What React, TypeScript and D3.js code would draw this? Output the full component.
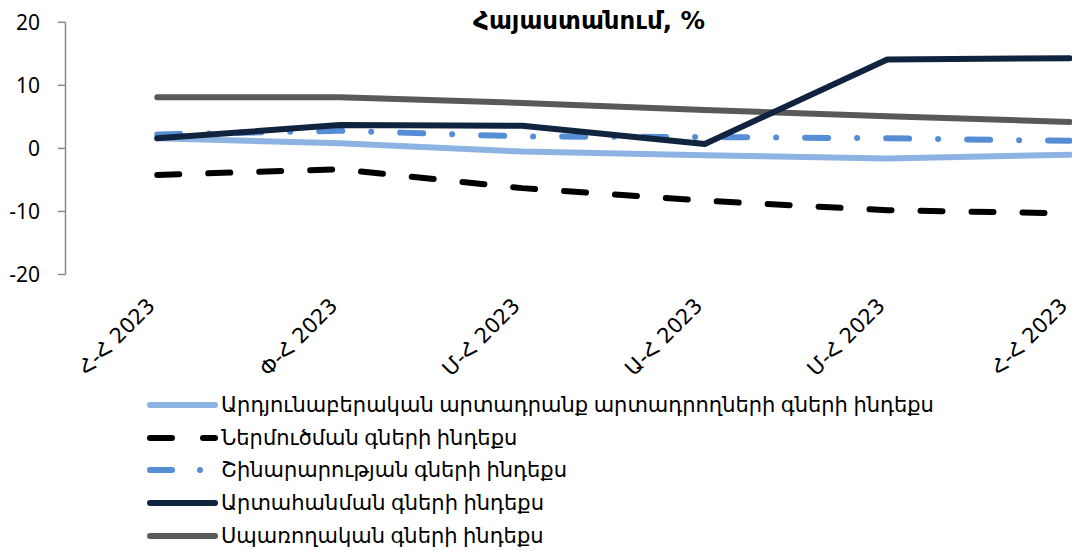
import React from "react";
import * as d3 from "d3";

const categories = ["Հ-Հ 2023", "Փ-Հ 2023", "Մ-Հ 2023", "Ա-Հ 2023", "Մ-Հ 2023", "Հ-Հ 2023"];
const producerPrices = [1.6, 0.8, -0.5, -1.1, -1.6, -1.0];
const importPrices = [-4.2, -3.3, -6.3, -8.3, -9.8, -10.3];
const constructionPrices = [2.2, 2.8, 1.9, 1.8, 1.6, 1.2];
const exportPrices = [1.6, 3.7, 3.6, 0.7, 14.1, 14.3];
const consumerPrices = [8.1, 8.1, 7.2, 6.1, 5.1, 4.2];
const yTicks = [-20, -10, 0, 10, 20];
const title = "Հայաստանում, %";

const seriesNames = [
  "Արդյունաբերական արտադրանք արտադրողների գների ինդեքս",
  "Ներմուծման գների ինդեքս",
  "Շինարարության գների ինդեքս",
  "Արտահանման գների ինդեքս",
  "Սպառողական գների ինդեքս",
];

const FONT = "'Noto Sans', 'DejaVu Sans', sans-serif";
const WIDE = "'DejaVu Sans', 'Noto Sans', sans-serif";

export default function App() {
  const W = 1072;
  const H = 551;
  const x = d3.scaleBand<string>().domain(categories.map((_, i) => String(i))).range([66, 1161]);
  const cx = (i: number) => (x(String(i)) as number) + x.bandwidth() / 2;
  const y = d3.scaleLinear().domain([-20, 20]).range([274.5, 22.3]);

  const line = d3
    .line<number>()
    .x((_, i) => cx(i))
    .y((d) => y(d));

  const series = [
    { name: seriesNames[0], data: producerPrices, color: "#8db3e2", width: 6, dash: "" },
    { name: seriesNames[1], data: importPrices, color: "#000000", width: 6, dash: "22 29" },
    { name: seriesNames[2], data: constructionPrices, color: "#558ed5", width: 6, dash: "23 29 0 29" },
    { name: seriesNames[3], data: exportPrices, color: "#10243f", width: 6, dash: "" },
    { name: seriesNames[4], data: consumerPrices, color: "#595959", width: 6, dash: "" },
  ];
  const drawOrder = [4, 0, 2, 1, 3];

  const legendY = [405, 438, 470, 503, 536];

  return (
    <svg width={W} height={H} style={{ position: "absolute", left: 0, top: 0 }}>
      <rect width={W} height={H} fill="#ffffff" />
      <text
        x={589}
        y={29}
        textAnchor="middle"
        fontFamily={WIDE}
        fontSize={24}
        fontWeight="bold"
        fill="#000"
        textLength={232}
        lengthAdjust="spacingAndGlyphs"
      >
        {title}
      </text>
      {/* y axis */}
      <line x1={65.5} x2={65.5} y1={y(20)} y2={y(-20)} stroke="#898989" strokeWidth={1.5} />
      {yTicks.map((t) => (
        <g key={t}>
          <line x1={58} x2={65.5} y1={y(t)} y2={y(t)} stroke="#898989" strokeWidth={1.5} />
          <text x={40} y={y(t)} dy="0.35em" textAnchor="end" fontFamily={FONT} fontSize={21} fill="#000">
            {t}
          </text>
        </g>
      ))}
      {/* series */}
      {drawOrder.map((k) => {
        const s = series[k];
        return (
          <path
            key={k}
            d={line(s.data) || ""}
            fill="none"
            stroke={s.color}
            strokeWidth={s.width}
            strokeLinecap="round"
            strokeLinejoin="round"
            strokeDasharray={s.dash || undefined}
          />
        );
      })}
      {/* x labels */}
      {categories.map((c, i) => (
        <text
          key={i}
          transform={`translate(${cx(i) - 1},${307}) rotate(-45)`}
          textAnchor="end"
          fontFamily={WIDE}
          fontSize={21}
          fill="#000"
        >
          {c}
        </text>
      ))}
      {/* legend */}
      {series.map((s, i) => (
        <g key={i}>
          {s.dash === "" ? (
            <line x1={150} x2={215} y1={legendY[i]} y2={legendY[i]} stroke={s.color} strokeWidth={6} strokeLinecap="round" />
          ) : i === 1 ? (
            <>
              <line x1={150} x2={172} y1={legendY[i]} y2={legendY[i]} stroke={s.color} strokeWidth={6} strokeLinecap="round" />
              <line x1={203} x2={215} y1={legendY[i]} y2={legendY[i]} stroke={s.color} strokeWidth={6} strokeLinecap="round" />
            </>
          ) : (
            <>
              <line x1={150} x2={172} y1={legendY[i]} y2={legendY[i]} stroke={s.color} strokeWidth={6} strokeLinecap="round" />
              <circle cx={200} cy={legendY[i]} r={3} fill={s.color} />
            </>
          )}
          <text x={221} y={legendY[i]} dy="0.35em" fontFamily={FONT} fontSize={21} fill="#000">
            {s.name}
          </text>
        </g>
      ))}
    </svg>
  );
}
